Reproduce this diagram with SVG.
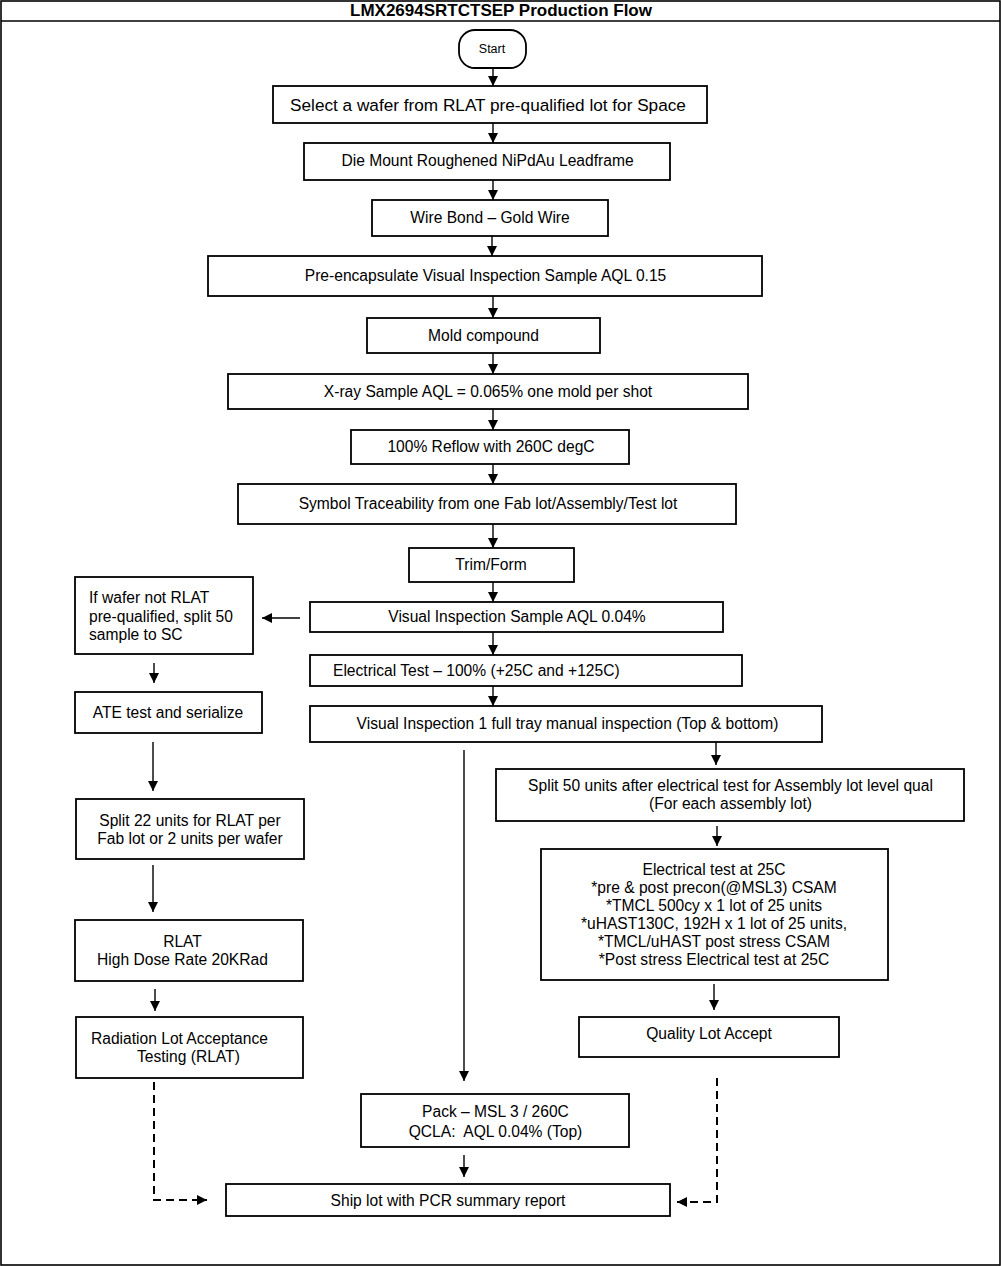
<svg xmlns="http://www.w3.org/2000/svg" width="1001" height="1266" viewBox="0 0 1001 1266">
<style>
.box{fill:#fff;stroke:#000;stroke-width:1.8}
.t{font-family:"Liberation Sans",Arial,sans-serif;font-size:15.6px;fill:#000;text-anchor:middle}
.ts{font-family:"Liberation Sans",Arial,sans-serif;font-size:15.6px;fill:#000}
.ar{fill:none;stroke:#000;stroke-width:1.4;marker-end:url(#ah)}
.da{fill:none;stroke:#000;stroke-width:2;stroke-dasharray:8 5;marker-end:url(#ah)}
</style>
<defs>
<marker id="ah" markerUnits="userSpaceOnUse" markerWidth="11" markerHeight="10" refX="10" refY="5" orient="auto">
<path d="M0,0 L10,5 L0,10 z" fill="#000"/>
</marker>
</defs>
<rect x="0" y="0" width="1001" height="1266" fill="#fff"/>
<rect x="1" y="1" width="999" height="1264" fill="none" stroke="#000" stroke-width="1.6"/>
<line x1="1" y1="21" x2="1000" y2="21" stroke="#000" stroke-width="1.4"/>
<text x="501" y="16" font-family="Liberation Sans,Arial,sans-serif" font-size="17px" font-weight="bold" text-anchor="middle">LMX2694SRTCTSEP Production Flow</text>

<g id="connectors">
<line class="ar" x1="493" y1="68" x2="493" y2="86"/>
<line class="ar" x1="493" y1="123" x2="493" y2="143"/>
<line class="ar" x1="493" y1="180" x2="493" y2="200"/>
<line class="ar" x1="492" y1="236" x2="492" y2="256"/>
<line class="ar" x1="493" y1="296" x2="493" y2="318"/>
<line class="ar" x1="493" y1="353" x2="493" y2="374"/>
<line class="ar" x1="493" y1="409" x2="493" y2="430"/>
<line class="ar" x1="493" y1="464" x2="493" y2="484"/>
<line class="ar" x1="493" y1="524" x2="493" y2="548"/>
<line class="ar" x1="493" y1="582" x2="493" y2="602"/>
<line class="ar" x1="493" y1="632" x2="493" y2="655"/>
<line class="ar" x1="493" y1="686" x2="493" y2="706"/>
<line class="ar" x1="300" y1="618" x2="262" y2="618"/>
<line class="ar" x1="154" y1="663" x2="154" y2="683"/>
<line class="ar" x1="153" y1="742" x2="153" y2="791"/>
<line class="ar" x1="153" y1="865" x2="153" y2="912"/>
<line class="ar" x1="155" y1="989" x2="155" y2="1011"/>
<line class="ar" x1="464" y1="750" x2="464" y2="1081"/>
<line class="ar" x1="716" y1="742" x2="716" y2="765"/>
<line class="ar" x1="717" y1="826" x2="717" y2="846"/>
<line class="ar" x1="714" y1="984" x2="714" y2="1010"/>
<line class="ar" x1="464" y1="1155" x2="464" y2="1177"/>
<polyline class="da" points="154,1082 154,1200 207,1200"/>
<polyline class="da" points="717,1078 717,1202 677,1202"/>
</g>

<g id="start">
<rect class="box" x="459" y="30" width="67" height="38" rx="16"/>
<text x="492" y="53" font-family="Liberation Sans,Arial,sans-serif" font-size="12.5px" text-anchor="middle">Start</text>
</g>
<g id="select">
<rect class="box" x="273" y="86" width="434" height="37"/>
<text class="t" x="488" y="111" style="font-size:17.2px">Select a wafer from RLAT pre-qualified lot for Space</text>
</g>
<g id="diemount">
<rect class="box" x="304" y="143" width="366" height="37"/>
<text class="t" x="487.5" y="166">Die Mount Roughened NiPdAu Leadframe</text>
</g>
<g id="wirebond">
<rect class="box" x="372" y="200" width="236" height="36"/>
<text class="t" x="490" y="223">Wire Bond – Gold Wire</text>
</g>
<g id="preencap">
<rect class="box" x="208" y="256" width="554" height="40"/>
<text class="t" x="485.5" y="281">Pre-encapsulate Visual Inspection Sample AQL 0.15</text>
</g>
<g id="mold">
<rect class="box" x="367" y="318" width="233" height="35"/>
<text class="t" x="483.5" y="341">Mold compound</text>
</g>
<g id="xray">
<rect class="box" x="228" y="374" width="520" height="35"/>
<text class="t" x="488" y="397">X-ray Sample AQL = 0.065% one mold per shot</text>
</g>
<g id="reflow">
<rect class="box" x="351" y="430" width="278" height="34"/>
<text class="t" x="491" y="452">100% Reflow with 260C degC</text>
</g>
<g id="symbol">
<rect class="box" x="238" y="484" width="498" height="40"/>
<text class="t" x="488" y="509">Symbol Traceability from one Fab lot/Assembly/Test lot</text>
</g>
<g id="trimform">
<rect class="box" x="409" y="548" width="165" height="34"/>
<text class="t" x="491" y="570">Trim/Form</text>
</g>
<g id="ifwafer">
<rect class="box" x="75" y="577" width="178" height="77"/>
<text class="ts" x="89" y="603">If wafer not RLAT</text>
<text class="ts" x="89" y="622">pre-qualified, split 50</text>
<text class="ts" x="89" y="640">sample to SC</text>
</g>
<g id="visinsp">
<rect class="box" x="310" y="602" width="413" height="30"/>
<text class="t" x="517" y="622">Visual Inspection Sample AQL 0.04%</text>
</g>
<g id="electest">
<rect class="box" x="310" y="655" width="432" height="31"/>
<text class="ts" x="333" y="676">Electrical Test – 100% (+25C and +125C)</text>
</g>
<g id="ate">
<rect class="box" x="75" y="692" width="187" height="41"/>
<text class="t" x="168" y="718">ATE test and serialize</text>
</g>
<g id="visinsp1">
<rect class="box" x="310" y="706" width="512" height="36"/>
<text class="t" x="567.5" y="729">Visual Inspection 1 full tray manual inspection (Top &amp; bottom)</text>
</g>
<g id="split50">
<rect class="box" x="496" y="769" width="468" height="52"/>
<text class="t" x="730.5" y="791">Split 50 units after electrical test for Assembly lot level qual</text>
<text class="t" x="730.5" y="809">(For each assembly lot)</text>
</g>
<g id="split22">
<rect class="box" x="76" y="799" width="228" height="60"/>
<text class="t" x="190" y="826">Split 22 units for RLAT per</text>
<text class="t" x="190" y="844">Fab lot or 2 units per wafer</text>
</g>
<g id="elec25">
<rect class="box" x="541" y="849" width="347" height="131"/>
<text class="t" x="714" y="875">Electrical test at 25C</text>
<text class="t" x="714" y="893">*pre &amp; post precon(@MSL3) CSAM</text>
<text class="t" x="714" y="911">*TMCL 500cy x 1 lot of 25 units</text>
<text class="t" x="714" y="929">*uHAST130C, 192H x 1 lot of 25 units,</text>
<text class="t" x="714" y="947">*TMCL/uHAST post stress CSAM</text>
<text class="t" x="714" y="965">*Post stress Electrical test at 25C</text>
</g>
<g id="rlat">
<rect class="box" x="75" y="920" width="228" height="61"/>
<text class="t" x="182.5" y="947">RLAT</text>
<text class="t" x="182.5" y="965">High Dose Rate 20KRad</text>
</g>
<g id="quality">
<rect class="box" x="579" y="1017" width="260" height="40"/>
<text class="t" x="709" y="1039">Quality Lot Accept</text>
</g>
<g id="radiation">
<rect class="box" x="76" y="1017" width="227" height="61"/>
<text class="ts" x="91" y="1044">Radiation Lot Acceptance</text>
<text class="ts" x="137" y="1062">Testing (RLAT)</text>
</g>
<g id="pack">
<rect class="box" x="361" y="1094" width="268" height="53"/>
<text class="t" x="495.5" y="1117">Pack – MSL 3 / 260C</text>
<text class="t" x="495.5" y="1137" xml:space="preserve">QCLA:  AQL 0.04% (Top)</text>
</g>
<g id="ship">
<rect class="box" x="226" y="1184" width="444" height="32"/>
<text class="t" x="448" y="1206">Ship lot with PCR summary report</text>
</g>
</svg>
